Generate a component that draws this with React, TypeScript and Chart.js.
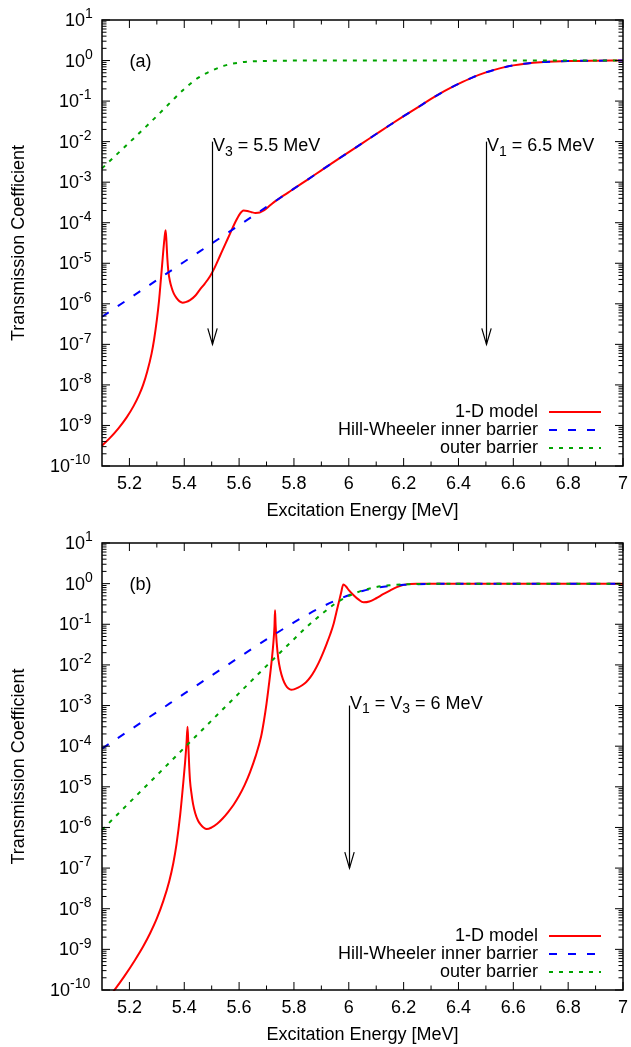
import React, { useEffect, useRef } from 'react';
import { Chart, registerables } from 'chart.js';

Chart.register(...registerables);

const FONT = '"Liberation Sans", Arial, Helvetica, sans-serif';

// ---- axes ----
const xRange = [5.1, 7];
const yRange = [1e-10, 10];
const xTickValues = [5.2, 5.4, 5.6, 5.8, 6, 6.2, 6.4, 6.6, 6.8, 7];
const xTickLabels = ['5.2', '5.4', '5.6', '5.8', '6', '6.2', '6.4', '6.6', '6.8', '7'];
const xMinorTicks = [5.3, 5.5, 5.7, 5.9, 6.1, 6.3, 6.5, 6.7, 6.9];
const yTickExponents = [1, 0, -1, -2, -3, -4, -5, -6, -7, -8, -9, -10];
const seriesLabels = ['1-D model', 'Hill-Wheeler inner barrier', 'outer barrier'];
const xTitle = 'Excitation Energy [MeV]';
const yTitle = 'Transmission Coefficient';

// ---- panel (a) ----
const energyA_model = [5.10, 5.13, 5.16, 5.19, 5.215, 5.235, 5.25, 5.265, 5.281, 5.29, 5.30, 5.308, 5.315, 5.32, 5.324, 5.328, 5.332, 5.335, 5.338, 5.342, 5.348, 5.354, 5.362, 5.372, 5.383, 5.394, 5.405, 5.421, 5.44, 5.457, 5.475, 5.494, 5.51, 5.53, 5.55, 5.567, 5.585, 5.603, 5.616, 5.63, 5.645, 5.66, 5.675, 5.69, 5.705, 5.72, 5.74, 5.76, 5.78, 5.80, 5.85, 5.90, 5.95, 6.00, 6.05, 6.10, 6.15, 6.20, 6.25, 6.30, 6.35, 6.40, 6.45, 6.50, 6.55, 6.60, 6.65, 6.70, 6.75, 6.80, 6.90, 7.00];
const modelA = [3.16e-10, 5.0e-10, 8.5e-10, 1.58e-9, 3.0e-9, 5.6e-9, 1.0e-8, 2.14e-8, 6.0e-8, 1.32e-7, 4.0e-7, 1.2e-6, 4.2e-6, 1.05e-5, 2.2e-5, 4.2e-5, 6.5e-5, 3.55e-5, 1.41e-5, 6.3e-6, 3.55e-6, 2.5e-6, 1.78e-6, 1.38e-6, 1.15e-6, 1.07e-6, 1.1e-6, 1.23e-6, 1.58e-6, 2.24e-6, 3.16e-6, 4.8e-6, 7.6e-6, 1.51e-5, 3.0e-5, 5.4e-5, 1.0e-4, 1.66e-4, 2.0e-4, 1.95e-4, 1.82e-4, 1.74e-4, 1.78e-4, 2.0e-4, 2.4e-4, 2.95e-4, 3.7e-4, 4.6e-4, 5.6e-4, 6.93e-4, 1.16e-3, 1.96e-3, 3.3e-3, 5.5e-3, 9.2e-3, 0.0154, 0.0257, 0.0424, 0.069, 0.113, 0.178, 0.265, 0.38, 0.51, 0.64, 0.76, 0.85, 0.91, 0.95, 0.975, 0.993, 0.999];

const energyA_inner = [5.1, 5.2, 5.3, 5.4, 5.5, 5.6, 5.7, 5.8, 5.85, 5.9, 5.95, 6.0, 6.05, 6.1, 6.15, 6.2, 6.25, 6.3, 6.35, 6.4, 6.45, 6.5, 6.55, 6.6, 6.65, 6.7, 6.75, 6.8, 6.9, 7.0];
const innerA = [4.8e-7, 1.36e-6, 3.85e-6, 1.09e-5, 3.07e-5, 8.66e-5, 2.45e-4, 6.93e-4, 1.16e-3, 1.96e-3, 3.3e-3, 5.5e-3, 9.2e-3, 0.0154, 0.0257, 0.0424, 0.069, 0.113, 0.178, 0.265, 0.38, 0.51, 0.64, 0.76, 0.85, 0.91, 0.95, 0.975, 0.993, 0.999];

const energyA_outer = [5.1, 5.15, 5.2, 5.25, 5.3, 5.35, 5.4, 5.45, 5.5, 5.55, 5.6, 5.65, 5.7, 5.75, 5.8, 5.9, 6.0, 6.5, 7.0];
const outerA = [2.19e-3, 4.57e-3, 9.55e-3, 0.02, 0.0427, 0.0933, 0.2, 0.372, 0.562, 0.759, 0.891, 0.955, 0.98, 0.992, 0.997, 0.9995, 1, 1, 1];

// ---- panel (b) ----
const energyB_model = [5.10, 5.14, 5.18, 5.22, 5.25, 5.275, 5.30, 5.324, 5.345, 5.36, 5.372, 5.385, 5.395, 5.403, 5.408, 5.412, 5.415, 5.418, 5.421, 5.426, 5.432, 5.44, 5.45, 5.46, 5.47, 5.482, 5.50, 5.52, 5.54, 5.56, 5.58, 5.60, 5.62, 5.64, 5.66, 5.68, 5.69, 5.70, 5.71, 5.72, 5.725, 5.729, 5.731, 5.733, 5.737, 5.743, 5.75, 5.76, 5.77, 5.78, 5.79, 5.80, 5.815, 5.83, 5.845, 5.86, 5.875, 5.89, 5.905, 5.92, 5.932, 5.945, 5.955, 5.965, 5.972, 5.98, 5.99, 6.0, 6.017, 6.035, 6.054, 6.075, 6.10, 6.125, 6.15, 6.175, 6.2, 6.225, 6.25, 6.3, 6.5, 7.0];
const modelB = [4.0e-11, 8.9e-11, 2.1e-10, 5.4e-10, 1.17e-9, 2.45e-9, 5.75e-9, 1.58e-8, 4.7e-8, 1.32e-7, 4.0e-7, 2.0e-6, 1.0e-5, 4.0e-5, 1.12e-4, 3.0e-4, 1.0e-4, 3.2e-5, 1.41e-5, 7.1e-6, 3.8e-6, 2.24e-6, 1.48e-6, 1.17e-6, 1.0e-6, 9.1e-7, 1.0e-6, 1.23e-6, 1.66e-6, 2.4e-6, 3.63e-6, 6.0e-6, 1.1e-5, 2.3e-5, 5.6e-5, 1.7e-4, 4.0e-4, 1.12e-3, 3.8e-3, 0.0151, 0.0355, 0.089, 0.22, 0.1, 0.0355, 0.0141, 7.6e-3, 4.4e-3, 3.16e-3, 2.63e-3, 2.45e-3, 2.5e-3, 2.75e-3, 3.16e-3, 3.8e-3, 5.0e-3, 7.2e-3, 0.0112, 0.019, 0.034, 0.056, 0.105, 0.2, 0.38, 0.6, 0.955, 0.85, 0.69, 0.525, 0.41, 0.347, 0.363, 0.437, 0.55, 0.676, 0.82, 0.933, 0.977, 0.993, 1, 1, 1];

const energyB_inner = [5.1, 5.2, 5.3, 5.4, 5.5, 5.6, 5.7, 5.8, 5.85, 5.9, 5.95, 6.0, 6.05, 6.1, 6.15, 6.2, 6.25, 6.3, 6.4, 6.5, 6.6, 6.8, 7.0];
const innerB = [8.7e-5, 2.45e-4, 6.9e-4, 1.96e-3, 5.5e-3, 0.0154, 0.0424, 0.111, 0.174, 0.263, 0.38, 0.519, 0.66, 0.785, 0.877, 0.933, 0.966, 0.984, 0.995, 1, 1, 1, 1];

const energyB_outer = [5.1, 5.2, 5.3, 5.4, 5.5, 5.6, 5.7, 5.8, 5.85, 5.9, 5.95, 6.0, 6.05, 6.1, 6.15, 6.2, 6.3, 6.4, 6.6, 7.0];
const outerB = [8.7e-7, 4.1e-6, 1.92e-5, 9.1e-5, 4.3e-4, 2.02e-3, 9.45e-3, 0.043, 0.09, 0.175, 0.32, 0.5, 0.68, 0.825, 0.915, 0.957, 0.99, 0.998, 1, 1];

// ---- annotations ----
type Part = { t: string; s?: 'sub' | 'sup' };
const panelLabels = ['(a)', '(b)'];
const arrowA = { x: 5.5, from: 1e-2, to: 1e-7, parts: [{ t: 'V' }, { t: '3', s: 'sub' }, { t: ' = 5.5 MeV' }] as Part[], dy: 4.5 };
const arrowA2 = { x: 6.5, from: 1e-2, to: 1e-7, parts: [{ t: 'V' }, { t: '1', s: 'sub' }, { t: ' = 6.5 MeV' }] as Part[], dy: 4.5 };
const arrowB = { x: 6.0, from: 1e-3, to: 1e-7, parts: [{ t: 'V' }, { t: '1', s: 'sub' }, { t: ' = V' }, { t: '3', s: 'sub' }, { t: ' = 6 MeV' }] as Part[], dy: -2 };

const COLORS = ['#ff0000', '#0000ff', '#00a400'];
const DASHES: number[][] = [[], [8, 11], [4, 6]];

function zip(xs: number[], ys: number[]) {
  return xs.map((x, i) => ({ x, y: ys[i] }));
}

function drawRich(ctx: CanvasRenderingContext2D, x: number, y: number, parts: Part[], size: number) {
  let cx = x;
  ctx.textAlign = 'left';
  ctx.textBaseline = 'middle';
  for (const p of parts) {
    const fs = p.s ? Math.round(size * 0.78) : size;
    ctx.font = `${fs}px ${FONT}`;
    const dy = p.s === 'sub' ? 6 : p.s === 'sup' ? -6.5 : 0;
    ctx.fillText(p.t, cx, y + dy);
    cx += ctx.measureText(p.t).width;
  }
}

type PanelSpec = {
  label: string;
  series: { x: number[]; y: number[] }[];
  arrows: { x: number; from: number; to: number; parts: Part[]; dy: number }[];
};

function makeOverlay(spec: PanelSpec) {
  return {
    id: 'overlay',
    afterDraw(chart: any) {
      const ctx: CanvasRenderingContext2D = chart.ctx;
      const a = chart.chartArea;
      const xs = chart.scales.x;
      const ys = chart.scales.y;
      ctx.save();
      ctx.strokeStyle = '#000';
      ctx.fillStyle = '#000';
      ctx.lineWidth = 1;
      const seg = (x1: number, y1: number, x2: number, y2: number) => {
        ctx.beginPath();
        ctx.moveTo(x1, y1);
        ctx.lineTo(x2, y2);
        ctx.stroke();
      };
      const MAJ = 8;
      const MIN = 4.5;
      xTickValues.forEach((v) => {
        const px = xs.getPixelForValue(v);
        seg(px, a.bottom, px, a.bottom - MAJ);
        seg(px, a.top, px, a.top + MAJ);
      });
      xMinorTicks.forEach((v) => {
        const px = xs.getPixelForValue(v);
        seg(px, a.bottom, px, a.bottom - MIN);
        seg(px, a.top, px, a.top + MIN);
      });
      yTickExponents.forEach((e) => {
        const py = ys.getPixelForValue(Math.pow(10, e));
        seg(a.left, py, a.left + MAJ, py);
        seg(a.right, py, a.right - MAJ, py);
      });
      for (let e = -10; e < 1; e++) {
        for (let m = 2; m <= 9; m++) {
          const py = ys.getPixelForValue(m * Math.pow(10, e));
          seg(a.left, py, a.left + MIN, py);
          seg(a.right, py, a.right - MIN, py);
        }
      }
      ctx.lineWidth = 1.5;
      ctx.strokeRect(a.left, a.top, a.right - a.left, a.bottom - a.top);

      // x tick labels
      ctx.font = `18px ${FONT}`;
      ctx.textAlign = 'center';
      ctx.textBaseline = 'middle';
      xTickValues.forEach((v, i) => {
        ctx.fillText(xTickLabels[i], xs.getPixelForValue(v), a.bottom + 18);
      });
      // y tick labels
      yTickExponents.forEach((e) => {
        const py = ys.getPixelForValue(Math.pow(10, e));
        const es = String(e);
        const off = es.length === 1 ? 37 : es.length === 2 ? 43 : 52;
        drawRich(ctx, a.left - off, py + 1, [{ t: '10' }, { t: es, s: 'sup' }], 18);
      });
      // axis titles
      ctx.font = `18px ${FONT}`;
      ctx.textAlign = 'center';
      ctx.textBaseline = 'middle';
      ctx.fillText(xTitle, (a.left + a.right) / 2, a.bottom + 45);
      ctx.save();
      ctx.translate(19, (a.top + a.bottom) / 2);
      ctx.rotate(-Math.PI / 2);
      ctx.fillText(yTitle, 0, 0);
      ctx.restore();

      // panel label
      ctx.font = `18px ${FONT}`;
      ctx.textAlign = 'left';
      ctx.fillText(spec.label, xs.getPixelForValue(5.2), ys.getPixelForValue(1) + 1);

      // arrows
      spec.arrows.forEach((ar) => {
        const px = Math.round(xs.getPixelForValue(ar.x)) + 0.5;
        const y1 = ys.getPixelForValue(ar.from);
        const y2 = ys.getPixelForValue(ar.to);
        ctx.lineWidth = 1.2;
        seg(px, y1, px, y2);
        ctx.beginPath();
        ctx.moveTo(px - 4.7, y2 - 16);
        ctx.lineTo(px, y2);
        ctx.lineTo(px + 4.7, y2 - 16);
        ctx.stroke();
        drawRich(ctx, px + 0.5, y1 + ar.dy, ar.parts, 18);
      });

      // legend
      const rows = [54, 36, 18];
      seriesLabels.forEach((lab, i) => {
        const y = a.bottom - rows[i];
        ctx.font = `18px ${FONT}`;
        ctx.textAlign = 'right';
        ctx.textBaseline = 'middle';
        ctx.fillStyle = '#000';
        ctx.fillText(lab, a.right - 85, y);
        ctx.strokeStyle = COLORS[i];
        ctx.lineWidth = 2;
        ctx.setLineDash(DASHES[i]);
        seg(a.right - 74, y, a.right - 22, y);
        ctx.setLineDash([]);
        ctx.strokeStyle = '#000';
      });
      ctx.restore();
    },
  };
}

function PanelChart({ spec, height }: { spec: PanelSpec; height: number }) {
  const ref = useRef<HTMLCanvasElement>(null);
  useEffect(() => {
    const canvas = ref.current!;
    const datasets = spec.series.map((s, i) => ({
      label: seriesLabels[i],
      data: zip(s.x, s.y),
      borderColor: COLORS[i],
      backgroundColor: COLORS[i],
      borderWidth: 2,
      borderDash: DASHES[i],
      pointRadius: 0,
      fill: false,
      cubicInterpolationMode: 'monotone' as const,
      order: 2 - i,
      clip: 1,
    }));
    const chart = new Chart(canvas, {
      type: 'line',
      data: { datasets },
      options: {
        animation: false,
        responsive: false,
        devicePixelRatio: 1,
        layout: { padding: { left: 102, top: 20, right: 8, bottom: 57 } },
        scales: {
          x: { type: 'linear', min: xRange[0], max: xRange[1], display: false },
          y: { type: 'logarithmic', min: yRange[0], max: yRange[1], display: false },
        },
        plugins: { legend: { display: false }, tooltip: { enabled: false } },
        events: [],
      },
      plugins: [makeOverlay(spec)],
    } as any);
    return () => chart.destroy();
  }, []);
  return <canvas ref={ref} width={631} height={height} style={{ display: 'block', width: 631, height }} />;
}

const panelA: PanelSpec = {
  label: panelLabels[0],
  series: [
    { x: energyA_model, y: modelA },
    { x: energyA_inner, y: innerA },
    { x: energyA_outer, y: outerA },
  ],
  arrows: [arrowA, arrowA2],
};

const panelB: PanelSpec = {
  label: panelLabels[1],
  series: [
    { x: energyB_model, y: modelB },
    { x: energyB_inner, y: innerB },
    { x: energyB_outer, y: outerB },
  ],
  arrows: [arrowB],
};

export default function App() {
  return (
    <div style={{ position: 'absolute', left: 0, top: 0, width: 631, height: 1047, background: '#fff' }}>
      <PanelChart spec={panelA} height={523} />
      <PanelChart spec={panelB} height={524} />
    </div>
  );
}
